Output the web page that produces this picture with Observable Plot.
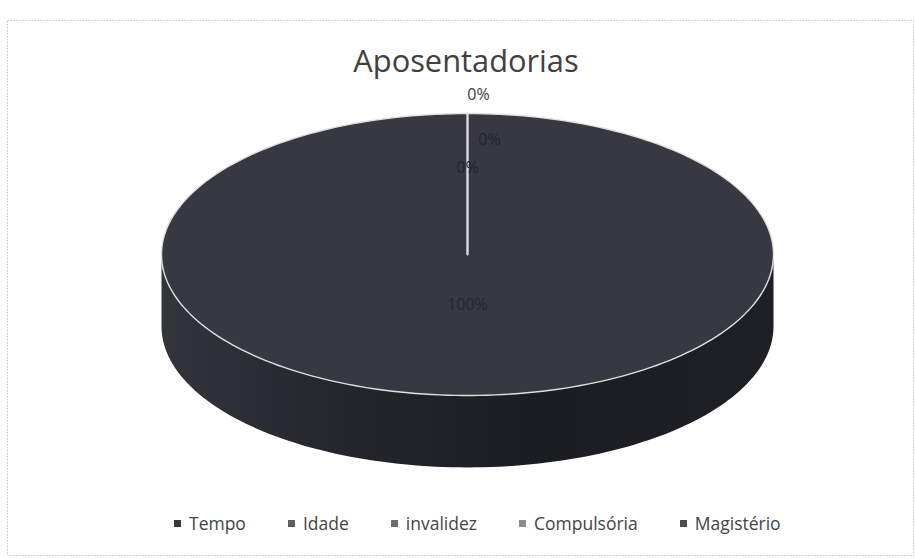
<!DOCTYPE html>
<html>
<head>
<meta charset="utf-8">
<script src="https://cdn.jsdelivr.net/npm/d3@7"></script>
<script src="https://cdn.jsdelivr.net/npm/@observablehq/plot@0.6"></script>
<style>
  body { margin: 0; background: #fff; }
  #chart { position: relative; width: 915px; height: 559px; font-family: "Open Sans", sans-serif; }
  #legend { position: absolute; left: 174px; top: 511px; display: flex; color: #444; font-size: 17.5px; }
  .item { display: flex; align-items: center; margin-right: 42px; }
  .sw { width: 7px; height: 7px; margin-right: 8px; }
</style>
</head>
<body>
<div id="chart"></div>
<script>
// ---- data ----
const title = "Aposentadorias";
const categories = ["Tempo", "Idade", "invalidez", "Compulsória", "Magistério"];
const values = [100, 0, 0, 0, 0];
const colors = ["#373841", "#5d5d62", "#6b6b70", "#8c8c90", "#4b4b52"];

// ---- geometry (3D pie drawn from d3.pie angles) ----
const DEPTH = 0.51;          // side thickness in pie-radius units
const N = 240;
const total = d3.sum(values);
const arcs = d3.pie().sort(null).value(d => d)(values);
const fmt = d3.format(".0%");

const topFace = [], sideFace = [];
arcs.forEach((a, i) => {
  const id = categories[i];
  topFace.push({id, color: colors[i], x: 0, y: 0});
  const n = Math.max(2, Math.ceil(N * (a.endAngle - a.startAngle) / (2 * Math.PI)));
  for (let k = 0; k <= n; k++) {
    const t = a.startAngle + (a.endAngle - a.startAngle) * k / n;
    topFace.push({id, color: colors[i], x: Math.sin(t), y: Math.cos(t)});
  }
  const s0 = Math.max(a.startAngle, Math.PI / 2), s1 = Math.min(a.endAngle, 3 * Math.PI / 2);
  if (s1 > s0) {
    const m = Math.ceil(N * (s1 - s0) / (2 * Math.PI));
    const pts = [];
    for (let k = 0; k <= m; k++) { const t = s0 + (s1 - s0) * k / m; pts.push([Math.sin(t), Math.cos(t)]); }
    pts.forEach(([x, y]) => sideFace.push({id, x, y}));
    pts.slice().reverse().forEach(([x, y]) => sideFace.push({id, x, y: y - DEPTH}));
  }
});

// label placement (Excel-style: zero slices stacked at 12 o'clock)
const zeroOffsets = [[0.036, 1.135, "#404040"], [0.072, 0.816, "#23242a"], [0.0, 0.617, "#23242a"], null];
let zi = 0;
const labels = [];
arcs.forEach((a, i) => {
  const txt = fmt(values[i] / total);
  if (a.endAngle - a.startAngle > 0) {
    const mid = (a.startAngle + a.endAngle) / 2;
    labels.push({txt, x: Math.sin(mid) * 0.36, y: Math.cos(mid) * 0.36, c: "#25262c"});
  } else {
    const o = zeroOffsets[zi++];
    if (o) labels.push({txt, x: o[0], y: o[1], c: o[2]});
  }
});

const chart = Plot.plot({
  width: 915, height: 559, margin: 0,
  style: {fontFamily: "'Open Sans', sans-serif", background: "#fff"},
  x: {domain: [-1, 1], range: [161, 773], axis: null},
  y: {domain: [-1, 1], range: [395, 113], axis: null},
  marks: [
    () => {
      const defs = d3.create("svg:defs");
      const g = defs.append("linearGradient").attr("id", "sideGrad");
      [[0, "#33343c"], [0.3, "#25262c"], [0.6, "#1c1d22"], [1, "#1f2025"]]
        .forEach(([o, c]) => g.append("stop").attr("offset", o).attr("stop-color", c));
      return defs.node();
    },
    Plot.frame({stroke: "#c4c4c4", strokeDasharray: "1.5,1.5", insetLeft: 7, insetTop: 20, insetRight: 2, insetBottom: 4}),
    Plot.text([title], {frameAnchor: "top", dy: 50, dx: 8, fontSize: 30.8, fill: "#404040"}),
    Plot.line(sideFace, {x: "x", y: "y", z: "id", fill: "url(#sideGrad)", stroke: "none", curve: "linear-closed"}),
    Plot.line(topFace, {x: "x", y: "y", z: "id", fill: "color", stroke: "#e0e0e0", strokeWidth: 1.4, curve: "linear-closed"}),
    Plot.text(labels, {x: "x", y: "y", text: "txt", fill: "c", fontSize: 16})
  ]
});
document.getElementById("chart").appendChild(chart);

const legend = d3.select("#chart").append("div").attr("id", "legend");
categories.forEach((c, i) => {
  const it = legend.append("div").attr("class", "item");
  it.append("div").attr("class", "sw").style("background", colors[i]);
  it.append("span").text(c);
});
</script>
</body>
</html>
